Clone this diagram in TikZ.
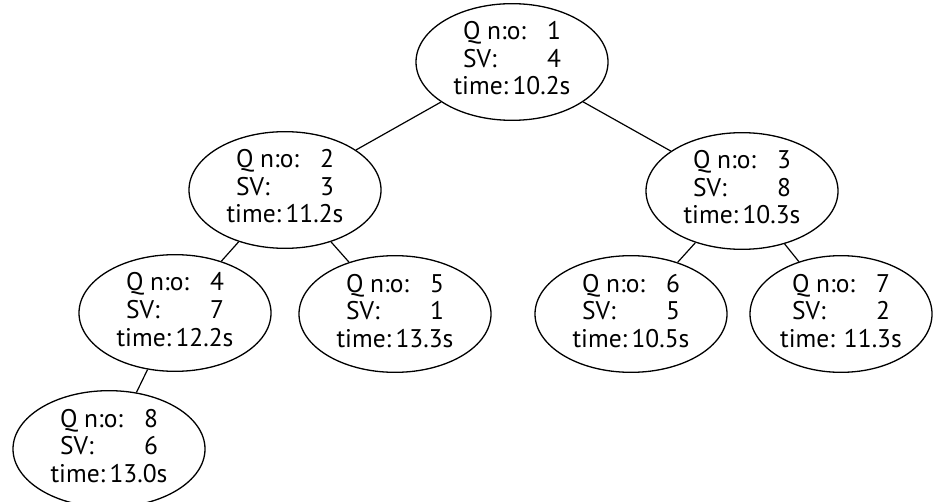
\documentclass[tikz,border=0pt]{standalone}
\usepackage{fontspec}
\setmainfont{PT Sans}
\usetikzlibrary{shapes.geometric}
\newcommand{\qnode}[4]{%
  \begin{tabular}{@{}c@{}}
  \makebox[98pt][s]{Q n:o:\hfill #1}\\
  \makebox[98pt][s]{SV:\hfill #2}\\
  #3time:#4
  \end{tabular}}
\begin{document}
\begin{tikzpicture}[x=1pt,y=-1pt,
  qbox/.style={draw, ellipse, line width=1.3pt, minimum width=192pt, minimum height=108pt,
    inner sep=0pt, font=\fontsize{25.5}{27.5}\selectfont},
  link/.style={line width=1.2pt}]
\useasboundingbox (0,0) rectangle (933,502);
\node[qbox] (n1) at (512,62)  {\qnode{1}{4}{}{\,10.2s}};
\node[qbox] (n2) at (285,190) {\qnode{2}{3}{}{\,11.2s}};
\node[qbox] (n3) at (742,191) {\qnode{3}{8}{}{\,10.3s}};
\node[qbox] (n4) at (175,313) {\qnode{4}{7}{}{\,12.2s}};
\node[qbox] (n5) at (395,314) {\qnode{5}{1}{}{\,13.3s}};
\node[qbox] (n6) at (631,314) {\qnode{6}{5}{}{\,10.5s}};
\node[qbox, minimum width=182pt] (n7) at (841,314) {\qnode{7}{2}{}{ 11.3s}};
\node[qbox] (n8) at (109,449) {\qnode{8}{6}{}{\,13.0s}};
\draw[link] (n1) -- (n2);
\draw[link] (n1) -- (n3);
\draw[link] (n2) -- (n4);
\draw[link] (n2) -- (n5);
\draw[link] (n3) -- (n6);
\draw[link] (n3) -- (n7);
\draw[link] (n4) -- (n8);
\end{tikzpicture}
\end{document}
